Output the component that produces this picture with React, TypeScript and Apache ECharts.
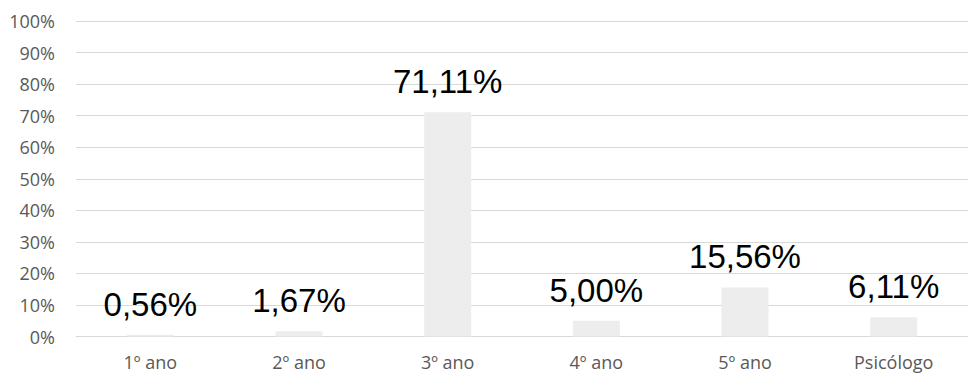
import React, { useEffect, useRef } from "react";
import * as echarts from "echarts";

// Share of respondents per year of study (percent)
const categories = ["1º ano", "2º ano", "3º ano", "4º ano", "5º ano", "Psicólogo"];
const shares = [0.56, 1.67, 71.11, 5.0, 15.56, 6.11];
const yTicks = [0, 10, 20, 30, 40, 50, 60, 70, 80, 90, 100];

const fmtPct = (v: number) => v.toFixed(2).replace(".", ",") + "%";

export default function App() {
  const ref = useRef<HTMLDivElement>(null);

  useEffect(() => {
    if (!ref.current) return;
    const chart = echarts.init(ref.current, null, { renderer: "svg" });
    chart.setOption({
      animation: false,
      backgroundColor: "#ffffff",
      grid: { left: 76, top: 21, width: 900, bottom: 36.5, containLabel: false },
      xAxis: {
        type: "category",
        data: categories,
        axisLine: { show: true, lineStyle: { color: "#d9d9d9", width: 1 } },
        axisTick: { show: false },
        axisLabel: {
          color: "#595959",
          fontFamily: "Open Sans",
          fontSize: 18,
          lineHeight: 18,
          margin: 16,
        },
      },
      yAxis: {
        type: "value",
        min: yTicks[0],
        max: yTicks[yTicks.length - 1],
        interval: 10,
        axisLine: { show: false },
        axisTick: { show: false },
        splitLine: { lineStyle: { color: "#d9d9d9", width: 1 } },
        axisLabel: {
          color: "#595959",
          fontFamily: "Open Sans",
          fontSize: 18,
          margin: 21,
          formatter: (v: number) => `${v}%`,
        },
      },
      series: [
        {
          type: "bar",
          data: shares,
          barWidth: 47,
          itemStyle: { color: "#ededed" },
          label: {
            show: true,
            position: "top",
            distance: 14,
            color: "#000000",
            fontFamily: "Liberation Sans",
            fontSize: 33,
            formatter: (p: any) => fmtPct(p.value),
          },
        },
      ],
    });
    return () => chart.dispose();
  }, []);

  return (
    <div
      ref={ref}
      style={{ position: "fixed", left: 0, top: 0, width: 968, height: 373 }}
    />
  );
}
